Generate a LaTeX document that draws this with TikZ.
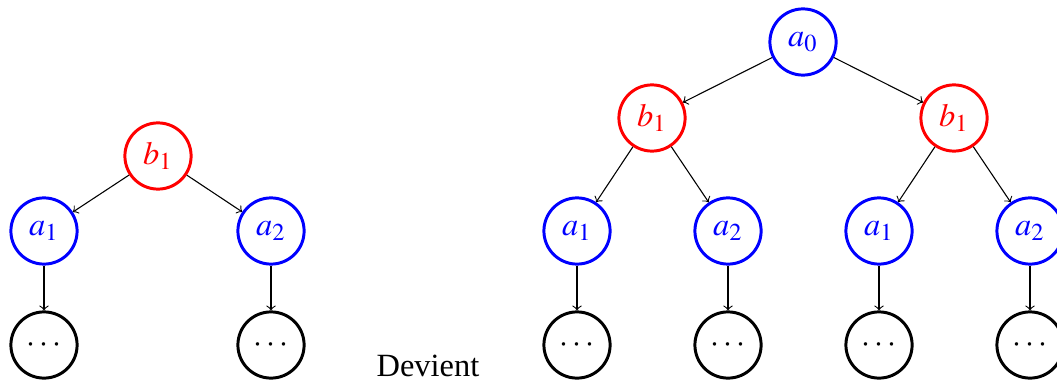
\documentclass[tikz,border=0pt]{standalone}
\usepackage{mathptmx}
\usepackage[no-math]{fontspec}
\setmainfont{Liberation Serif}
\begin{document}
\begin{tikzpicture}[x=0.37pt,y=-0.37pt,
  every node/.style={font=\fontsize{12}{14}\selectfont},
  state/.style={circle,draw,line width=1.1pt,minimum size=24.5pt,inner sep=0pt},
  anode/.style={state,draw=blue,text=blue},
  bnode/.style={state,draw=red,text=red},
  dnode/.style={state,draw=black},
  edge/.style={->,line width=0.4pt}]
\useasboundingbox (0,0) rectangle (1057,381);
% left tree
\node[bnode] (lb)  at (158,156) {$b_1$};
\node[anode] (la1) at (44,231)  {$a_1$};
\node[anode] (la2) at (271,231) {$a_2$};
\node[dnode] (ld1) at (44,345)  {$\cdots$};
\node[dnode] (ld2) at (271,345) {$\cdots$};
\draw[edge] (lb) -- (la1);
\draw[edge] (lb) -- (la2);
\draw[edge] (la1) -- (ld1);
\draw[edge] (la2) -- (ld2);
% label between the trees
\node (dev) at (428,366) {Devient};
% right tree
\node[anode] (ra0) at (803,42)  {$a_0$};
\node[bnode] (rb1) at (652,118) {$b_1$};
\node[bnode] (rb2) at (954,118) {$b_1$};
\node[anode] (r11) at (577,231) {$a_1$};
\node[anode] (r12) at (728,231) {$a_2$};
\node[anode] (r21) at (879,231) {$a_1$};
\node[anode] (r22) at (1030,231) {$a_2$};
\node[dnode] (d11) at (577,345) {$\cdots$};
\node[dnode] (d12) at (728,345) {$\cdots$};
\node[dnode] (d21) at (879,345) {$\cdots$};
\node[dnode] (d22) at (1030,345) {$\cdots$};
\draw[edge] (ra0) -- (rb1);
\draw[edge] (ra0) -- (rb2);
\draw[edge] (rb1) -- (r11);
\draw[edge] (rb1) -- (r12);
\draw[edge] (rb2) -- (r21);
\draw[edge] (rb2) -- (r22);
\draw[edge] (r11) -- (d11);
\draw[edge] (r12) -- (d12);
\draw[edge] (r21) -- (d21);
\draw[edge] (r22) -- (d22);
\end{tikzpicture}
\end{document}
